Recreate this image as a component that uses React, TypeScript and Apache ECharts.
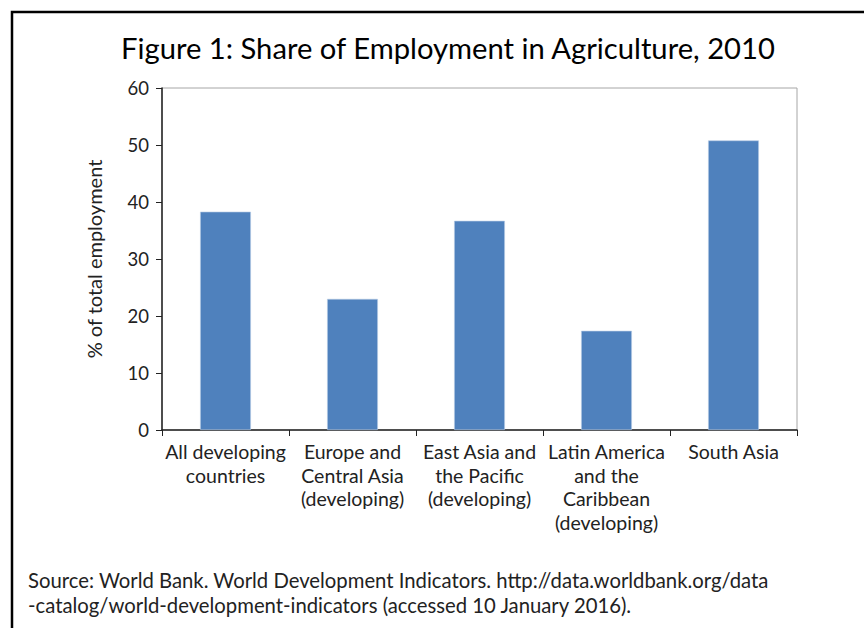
import React, { useEffect, useRef } from "react";
import * as echarts from "echarts";

const categories = [
  "All developing\ncountries",
  "Europe and\nCentral Asia\n(developing)",
  "East Asia and\nthe Pacific\n(developing)",
  "Latin America\nand the\nCaribbean\n(developing)",
  "South Asia",
];
const values = [38.3, 23.0, 36.7, 17.4, 50.8];
const yTicks = { min: 0, max: 60, interval: 10 };
const titleText = "Figure 1: Share of Employment in Agriculture, 2010";
const yAxisName = "% of total employment";
const sourceLines = [
  "Source: World Bank. World Development Indicators. http://data.worldbank.org/data",
  "-catalog/world-development-indicators (accessed 10 January 2016).",
];

const FONT = "Lato, 'Open Sans', sans-serif";

export default function App() {
  const ref = useRef<HTMLDivElement>(null);
  useEffect(() => {
    document.body.style.margin = "0";
    const chart = echarts.init(ref.current!, null, { renderer: "svg" });
    chart.setOption({
      animation: false,
      backgroundColor: "#ffffff",
      textStyle: { fontFamily: FONT },
      title: {
        text: titleText,
        left: 116,
        top: 28,
        textStyle: { fontFamily: FONT, fontSize: 29.2, fontWeight: "normal", color: "#000" },
      },
      grid: { left: 162, top: 88, right: 67, bottom: 198, show: true, borderColor: "#a6a6a6", borderWidth: 1 },
      xAxis: {
        type: "category",
        data: categories,
        axisLine: { lineStyle: { color: "#222", width: 1.5 } },
        axisTick: { show: true, alignWithLabel: false, length: 6, lineStyle: { color: "#222" } },
        axisLabel: { color: "#222", fontSize: 19.5, lineHeight: 23.5, margin: 10, interval: 0, fontFamily: FONT },
      },
      yAxis: {
        type: "value",
        min: yTicks.min,
        max: yTicks.max,
        interval: yTicks.interval,
        name: yAxisName,
        nameLocation: "middle",
        nameGap: 58,
        nameTextStyle: { color: "#222", fontSize: 20, fontFamily: FONT },
        splitLine: { show: false },
        axisLine: { show: true, lineStyle: { color: "#222", width: 1.5 } },
        axisTick: { show: true, length: 6, lineStyle: { color: "#222" } },
        axisLabel: { color: "#222", fontSize: 18.5, margin: 13, fontFamily: FONT },
      },
      series: [
        {
          type: "bar",
          data: values,
          barCategoryGap: "60%",
          itemStyle: { color: "#4F81BD", borderColor: "#b9cde5", borderWidth: 0.6 },
        },
      ],
      graphic: [
        {
          type: "rect",
          shape: { x: 12, y: 12, width: 1000, height: 1000 },
          style: { fill: "none", stroke: "#000", lineWidth: 2.5 },
          silent: true,
        },
        {
          type: "text",
          left: 28,
          top: 568,
          style: {
            text: sourceLines.join("\n"),
            fontFamily: FONT,
            fontSize: 20.3,
            lineHeight: 24.5,
            fill: "#222",
          },
        },
      ],
    });
    return () => chart.dispose();
  }, []);
  return <div ref={ref} style={{ width: 864, height: 628 }} />;
}
